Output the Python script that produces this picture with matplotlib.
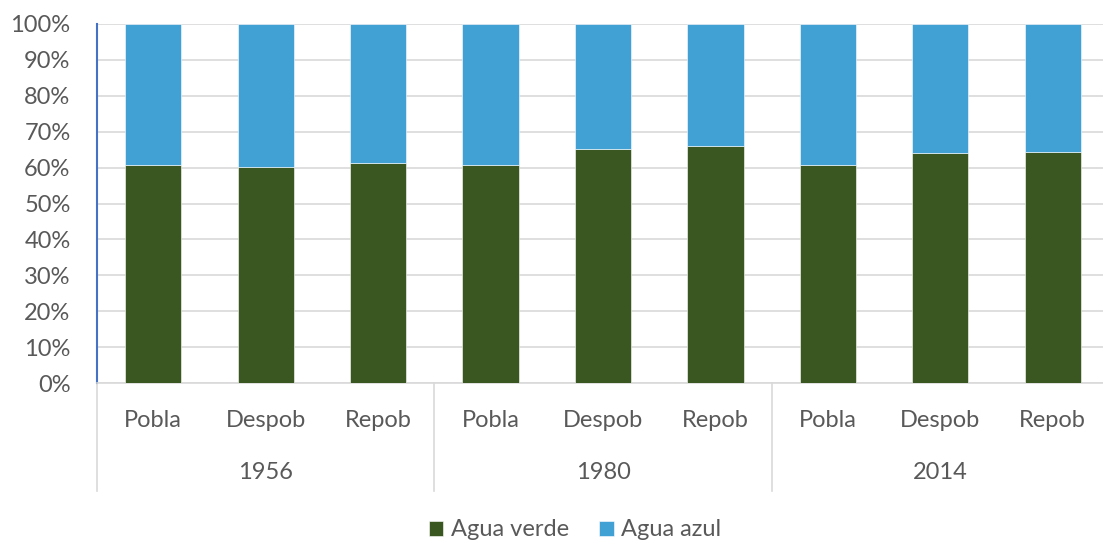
import matplotlib.pyplot as plt

plt.rcParams['font.family'] = ['Lato', 'DejaVu Sans']

years = ['1956', '1980', '2014']
cats = ['Pobla', 'Despob', 'Repob']
verde = [60.7, 60.3, 61.4, 60.7, 65.1, 65.9, 60.7, 64.1, 64.4]
azul = [100 - v for v in verde]

c_verde = '#3A5722'
c_azul = '#41A0D4'
txt = '#595959'
fs = 17

fig = plt.figure(figsize=(11.03, 5.44), dpi=100)
ax = fig.add_axes([97 / 1103, 1 - 383 / 544, 1012 / 1103, 359 / 544])

x = list(range(len(verde)))
ax.bar(x, verde, width=0.5, color=c_verde, edgecolor='white', linewidth=0.4, zorder=3, label='Agua verde')
ax.bar(x, azul, bottom=verde, width=0.5, color=c_azul, edgecolor='white', linewidth=0.4, zorder=3, label='Agua azul')

ax.set_xlim(-0.5, len(verde) - 0.5)
ax.set_ylim(0, 100)
ax.set_yticks(range(0, 101, 10))
ax.set_yticklabels([f'{v}%' for v in range(0, 101, 10)], fontsize=fs, color=txt)
ax.tick_params(axis='y', length=0, pad=19)
ax.set_xticks([])
ax.grid(axis='y', color='#D9D9D9', linewidth=1.2, zorder=0)

for s in ['top', 'right']:
    ax.spines[s].set_visible(False)
ax.spines['left'].set_color('#4472C4')
ax.spines['left'].set_linewidth(1.5)
ax.spines['bottom'].set_color('#D9D9D9')
ax.spines['bottom'].set_linewidth(1.2)

# multi-level category axis
trans = ax.get_xaxis_transform()
for i, c in enumerate(cats * len(years)):
    ax.text(i, -0.105, c, transform=trans, ha='center', va='center', fontsize=fs, color=txt)
for g, y in enumerate(years):
    ax.text(g * 3 + 1, -0.25, y, transform=trans, ha='center', va='center', fontsize=fs, color=txt)
for g in range(len(years) + 1):
    ax.plot([g * 3 - 0.5, g * 3 - 0.5], [0, -0.30], transform=trans, color='#D9D9D9',
            linewidth=1.2, clip_on=False)

ax.legend(loc='center', bbox_to_anchor=(575 / 1103, 1 - 530 / 544), bbox_transform=fig.transFigure,
          ncol=2, frameon=False, fontsize=fs, labelcolor=txt, handlelength=0.6, handleheight=0.6,
          handletextpad=0.3, columnspacing=1.3)

fig.savefig('out.png', dpi=100)
